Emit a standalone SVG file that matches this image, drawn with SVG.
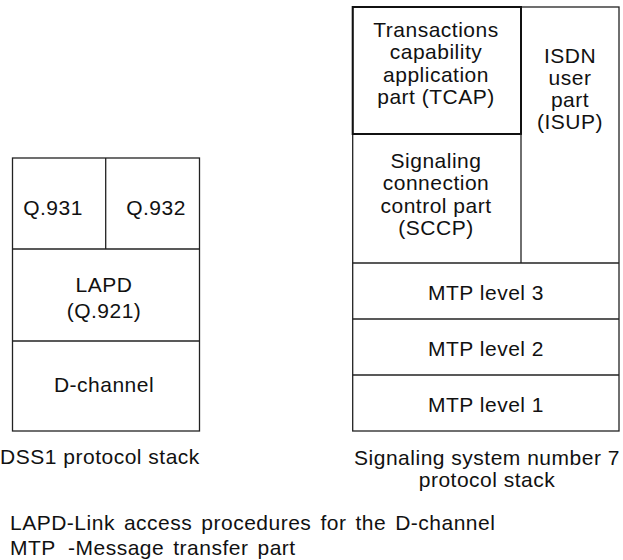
<svg xmlns="http://www.w3.org/2000/svg" width="623" height="560" viewBox="0 0 623 560">
<style>
.b{fill:none;stroke:#222;stroke-width:1.3}
.thick{fill:none;stroke:#111;stroke-width:2}
text{font-family:"Liberation Sans",Arial,sans-serif;font-size:21px;fill:#111;letter-spacing:0.5px}
.c{text-anchor:middle}
.lg{word-spacing:2.7px}
</style>
<rect width="623" height="560" fill="#fff"/>
<g id="dss1">
  <g id="dss1-frame"><rect class="b" x="12.5" y="158" width="187" height="273"/></g>
  <g id="q931"><line class="b" x1="105.7" y1="158" x2="105.7" y2="249" stroke="#555"/><text class="c" x="53" y="215">Q.931</text></g>
  <g id="q932"><text class="c" x="156" y="215">Q.932</text></g>
  <g id="lapd"><line class="b" x1="12.5" y1="249" x2="199.5" y2="249"/><text class="c" x="104" y="292">LAPD</text><text class="c" x="104" y="318">(Q.921)</text></g>
  <g id="dchannel"><line class="b" x1="12.5" y1="341" x2="199.5" y2="341"/><text class="c" x="104" y="392">D-channel</text></g>
  <text class="c" x="100" y="464">DSS1 protocol stack</text>
</g>
<g id="ss7">
  <g id="ss7-frame"><rect class="b" x="352.7" y="7" width="266.3" height="424"/></g>
  <g id="tcap"><rect class="thick" x="352.7" y="7" width="168.3" height="127"/>
    <text class="c" x="436" y="37">Transactions</text>
    <text class="c" x="436" y="59">capability</text>
    <text class="c" x="436" y="82">application</text>
    <text class="c" x="436" y="104">part (TCAP)</text></g>
  <g id="isup"><line class="b" x1="521" y1="134" x2="521" y2="263"/>
    <text class="c" x="570" y="63">ISDN</text>
    <text class="c" x="570" y="85">user</text>
    <text class="c" x="570" y="107">part</text>
    <text class="c" x="570" y="129">(ISUP)</text></g>
  <g id="sccp">
    <text class="c" x="436" y="168">Signaling</text>
    <text class="c" x="436" y="190">connection</text>
    <text class="c" x="436" y="213">control part</text>
    <text class="c" x="436" y="235">(SCCP)</text></g>
  <g id="mtp3"><line class="b" x1="352.7" y1="263" x2="619" y2="263"/><text class="c" x="486" y="300">MTP level 3</text></g>
  <g id="mtp2"><line class="b" x1="352.7" y1="319" x2="619" y2="319"/><text class="c" x="486" y="356">MTP level 2</text></g>
  <g id="mtp1"><line class="b" x1="352.7" y1="375" x2="619" y2="375"/><text class="c" x="486" y="412">MTP level 1</text></g>
  <text class="c" x="487" y="465">Signaling system number 7</text>
  <text class="c" x="487" y="487">protocol stack</text>
</g>
<g id="connectors"></g>
<g id="legend">
  <text class="lg" x="10" y="530">LAPD-Link access procedures for the D-channel</text>
  <text class="lg" x="10" y="555">MTP<tspan x="68">-Message transfer part</tspan></text>
</g>
</svg>
